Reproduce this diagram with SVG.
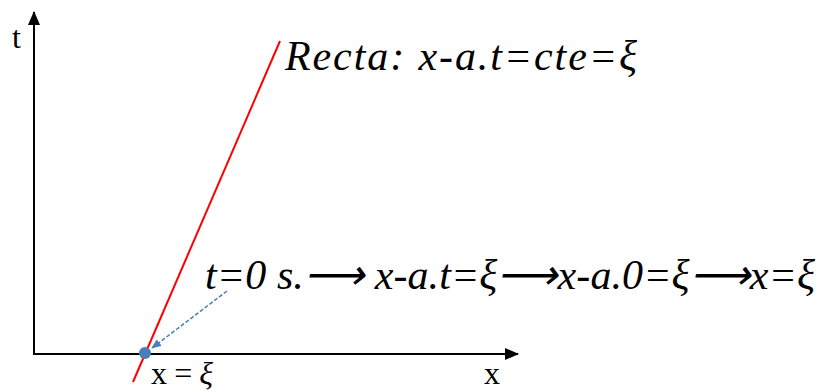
<svg xmlns="http://www.w3.org/2000/svg" width="822" height="392" viewBox="0 0 822 392">
<style>
.axis{stroke:#000;stroke-width:2;fill:none}
.lbl{font-family:"Liberation Serif","Times New Roman",serif;fill:#000}
.it{font-style:italic}
</style>
<defs>
<marker id="ah" markerWidth="14" markerHeight="12" refX="13" refY="6" orient="auto" markerUnits="userSpaceOnUse">
<path d="M0,0 L14,6 L0,12 Z" fill="#000"/>
</marker>
<marker id="bh" markerWidth="10" markerHeight="8" refX="9" refY="4" orient="auto" markerUnits="userSpaceOnUse">
<path d="M0,0 L10,4 L0,8 Z" fill="#4a7ebb"/>
</marker>
</defs>
<g id="connectors">
<line class="axis" x1="34" y1="354" x2="34" y2="12" marker-end="url(#ah)"/>
<line class="axis" x1="33" y1="354" x2="518" y2="354" marker-end="url(#ah)"/>
<line x1="133" y1="382" x2="280" y2="41" stroke="#ff0000" stroke-width="2"/>
<line x1="227" y1="291" x2="152" y2="348" stroke="#4a7ebb" stroke-width="1.5" stroke-dasharray="4,2" marker-end="url(#bh)"/>
</g>
<g id="point">
<circle cx="145" cy="353" r="6" fill="#4a7ebb"/>
</g>
<g id="labels">
<text class="lbl" x="12" y="48" font-size="32">t</text>
<text class="lbl" x="484" y="384" font-size="32">x</text>
<text class="lbl" x="151" y="384" font-size="32" textLength="62">x=<tspan class="it">ξ</tspan></text>
<text class="lbl it" x="285" y="70" font-size="42" textLength="352">Recta: x-a.t=cte=ξ</text>
<text class="lbl it" x="205" y="289" font-size="42" textLength="610">t=0 s.⟶ x-a.t=ξ⟶x-a.0=ξ⟶x=ξ</text>
</g>
</svg>
